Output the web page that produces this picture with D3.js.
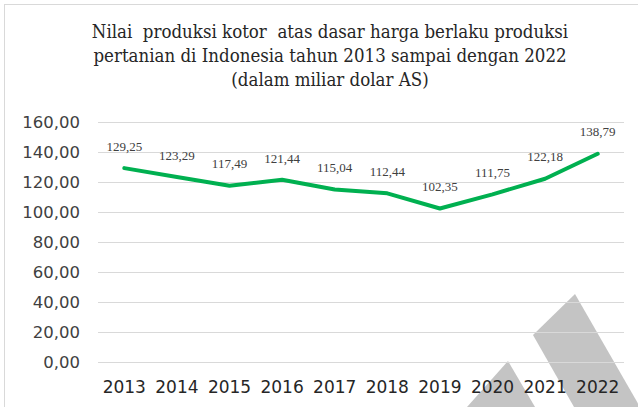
<!DOCTYPE html>
<html>
<head>
<meta charset="utf-8">
<script src="https://cdn.jsdelivr.net/npm/d3@7"></script>
<style>
  body { margin: 0; background: #fff; }
  svg { display: block; }
  .title { white-space: pre; }
</style>
</head>
<body>
<svg id="chart"></svg>
<script>
// data
const years = ["2013", "2014", "2015", "2016", "2017", "2018", "2019", "2020", "2021", "2022"];
const values = [129.25, 123.29, 117.49, 121.44, 115.04, 112.44, 102.35, 111.75, 122.18, 138.79];
const yTicks = [0, 20, 40, 60, 80, 100, 120, 140, 160];
const titleLines = [
  "Nilai  produksi kotor  atas dasar harga berlaku produksi",
  "pertanian di Indonesia tahun 2013 sampai dengan 2022",
  "(dalam miliar dolar AS)"
];

const W = 638, H = 407;
const svg = d3.select("#chart").attr("width", W).attr("height", H);

// chart frame
svg.append("rect")
  .attr("x", 4.5).attr("y", 4.5)
  .attr("width", W + 10).attr("height", H + 10)
  .attr("fill", "#fff")
  .attr("stroke", "#d9d9d9");

const margin = { top: 122, left: 98, right: 14, bottom: 45 };
const plotW = W - margin.left - margin.right;
const plotH = H - margin.top - margin.bottom;

const x = d3.scaleBand().domain(years).range([margin.left, margin.left + plotW]);
const y = d3.scaleLinear().domain([0, 160]).range([margin.top + plotH, margin.top]);

// watermark shapes (decorative, behind text)
const wm = svg.append("g").attr("fill", "#c4c4c4");
wm.append("polygon").attr("points", "575,294 640,407 574,407 533,335");
wm.append("polygon").attr("points", "508,361 535,407 467,407");

// title
svg.append("g")
  .selectAll("text")
  .data(titleLines)
  .enter()
  .append("text")
  .attr("class", "title")
  .attr("x", 330)
  .attr("y", (d, i) => 38 + i * 24)
  .attr("text-anchor", "middle")
  .attr("font-family", "DejaVu Serif, serif")
  .attr("font-stretch", "condensed")
  .attr("font-size", 18.5)
  .attr("fill", "#262626")
  .text((d) => d);

// gridlines
svg.append("g")
  .selectAll("line")
  .data(yTicks)
  .enter()
  .append("line")
  .attr("x1", margin.left)
  .attr("x2", margin.left + plotW)
  .attr("y1", (d) => y(d) + 0.5)
  .attr("y2", (d) => y(d) + 0.5)
  .attr("stroke", "#d9d9d9")
  .attr("stroke-width", 1);

// y axis labels
const fmt = (v) => v.toFixed(2).replace(".", ",");
svg.append("g")
  .selectAll("text")
  .data(yTicks)
  .enter()
  .append("text")
  .attr("x", 80)
  .attr("y", (d) => y(d))
  .attr("dy", "0.36em")
  .attr("text-anchor", "end")
  .attr("font-family", "DejaVu Sans, sans-serif")
  .attr("font-size", 16.5)
  .attr("fill", "#404040")
  .text(fmt);

// x axis labels
const xAxis = d3.axisBottom(x).tickSize(0).tickPadding(0);
const gx = svg.append("g")
  .attr("transform", `translate(0,${margin.top + plotH})`)
  .call(xAxis);
gx.select(".domain").remove();
gx.selectAll("text")
  .attr("y", 25)
  .attr("dy", "0.36em")
  .attr("font-family", "DejaVu Sans, sans-serif")
  .attr("font-size", 17)
  .attr("fill", "#262626");

// line
const cx = (d, i) => x(years[i]) + x.bandwidth() / 2;
const line = d3.line()
  .x(cx)
  .y((d) => y(d));

svg.append("path")
  .datum(values)
  .attr("d", line)
  .attr("fill", "none")
  .attr("stroke", "#00b050")
  .attr("stroke-width", 4)
  .attr("stroke-linejoin", "round")
  .attr("stroke-linecap", "round");

// data labels
svg.append("g")
  .selectAll("text")
  .data(values)
  .enter()
  .append("text")
  .attr("x", cx)
  .attr("y", (d) => y(d) - 22)
  .attr("dy", "0.36em")
  .attr("text-anchor", "middle")
  .attr("font-family", "Liberation Serif, serif")
  .attr("font-size", 13)
  .attr("fill", "#404040")
  .text(fmt);
</script>
</body>
</html>
